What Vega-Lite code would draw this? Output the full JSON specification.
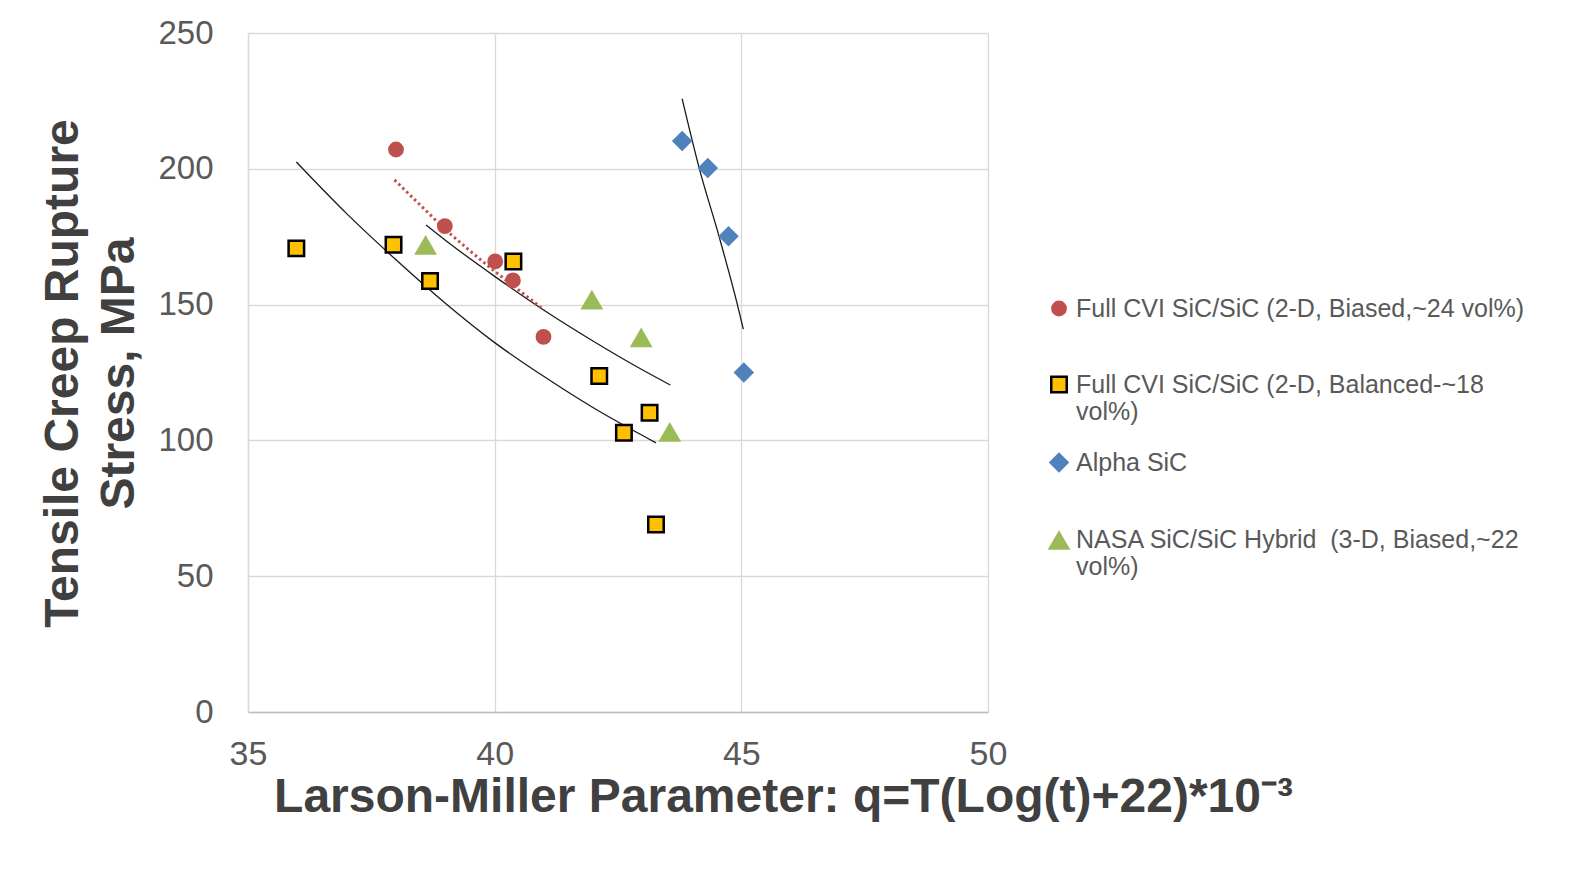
{
  "$schema": "https://vega.github.io/schema/vega-lite/v6.json",
  "width": 740,
  "height": 679,
  "autosize": "none",
  "padding": {"left": 248, "top": 33, "right": 593, "bottom": 161},
  "background": "white",
  "config": {"view": {"stroke": null}, "font": "Liberation Sans"},
  "datasets": {
    "points": [
      {"series": "Full CVI SiC/SiC (2-D, Biased,~24 vol%)", "q": 38.00, "stress": 207.1},
      {"series": "Full CVI SiC/SiC (2-D, Biased,~24 vol%)", "q": 38.99, "stress": 178.9},
      {"series": "Full CVI SiC/SiC (2-D, Biased,~24 vol%)", "q": 40.01, "stress": 165.9},
      {"series": "Full CVI SiC/SiC (2-D, Biased,~24 vol%)", "q": 40.37, "stress": 158.9},
      {"series": "Full CVI SiC/SiC (2-D, Biased,~24 vol%)", "q": 40.99, "stress": 138.1},
      {"series": "Full CVI SiC/SiC (2-D, Balanced-~18 vol%)", "q": 35.98, "stress": 170.7},
      {"series": "Full CVI SiC/SiC (2-D, Balanced-~18 vol%)", "q": 37.95, "stress": 172.0},
      {"series": "Full CVI SiC/SiC (2-D, Balanced-~18 vol%)", "q": 38.69, "stress": 158.7},
      {"series": "Full CVI SiC/SiC (2-D, Balanced-~18 vol%)", "q": 40.38, "stress": 165.9},
      {"series": "Full CVI SiC/SiC (2-D, Balanced-~18 vol%)", "q": 42.12, "stress": 123.7},
      {"series": "Full CVI SiC/SiC (2-D, Balanced-~18 vol%)", "q": 43.14, "stress": 110.2},
      {"series": "Full CVI SiC/SiC (2-D, Balanced-~18 vol%)", "q": 42.62, "stress": 102.8},
      {"series": "Full CVI SiC/SiC (2-D, Balanced-~18 vol%)", "q": 43.27, "stress": 69.0},
      {"series": "Alpha SiC", "q": 43.80, "stress": 210.2},
      {"series": "Alpha SiC", "q": 44.32, "stress": 200.3},
      {"series": "Alpha SiC", "q": 44.74, "stress": 175.2},
      {"series": "Alpha SiC", "q": 45.05, "stress": 125.0},
      {"series": "NASA SiC/SiC Hybrid  (3-D, Biased,~22 vol%)", "q": 38.60, "stress": 172.0},
      {"series": "NASA SiC/SiC Hybrid  (3-D, Biased,~22 vol%)", "q": 41.97, "stress": 151.8},
      {"series": "NASA SiC/SiC Hybrid  (3-D, Biased,~22 vol%)", "q": 42.97, "stress": 137.9},
      {"series": "NASA SiC/SiC Hybrid  (3-D, Biased,~22 vol%)", "q": 43.55, "stress": 103.1}
    ],
    "curves": [
      {"curve": "lower", "q": 35.98, "stress": 202.5},
      {"curve": "lower", "q": 37.0, "stress": 183.5},
      {"curve": "lower", "q": 38.0, "stress": 166.5},
      {"curve": "lower", "q": 39.0, "stress": 150.5},
      {"curve": "lower", "q": 40.0, "stress": 136.0},
      {"curve": "lower", "q": 41.0, "stress": 123.5},
      {"curve": "lower", "q": 42.0, "stress": 112.0},
      {"curve": "lower", "q": 43.27, "stress": 99.1},
      {"curve": "upper", "q": 38.61, "stress": 179.3},
      {"curve": "upper", "q": 39.0, "stress": 173.7},
      {"curve": "upper", "q": 40.0, "stress": 160.4},
      {"curve": "upper", "q": 41.0, "stress": 147.9},
      {"curve": "upper", "q": 42.0, "stress": 136.5},
      {"curve": "upper", "q": 43.0, "stress": 125.9},
      {"curve": "upper", "q": 43.56, "stress": 120.4},
      {"curve": "alpha", "q": 43.80, "stress": 225.8},
      {"curve": "alpha", "q": 44.15, "stress": 200.0},
      {"curve": "alpha", "q": 44.55, "stress": 175.0},
      {"curve": "alpha", "q": 44.92, "stress": 150.0},
      {"curve": "alpha", "q": 45.04, "stress": 141.0}
    ],
    "dotted": [
      {"q": 37.97, "stress": 195.9},
      {"q": 38.5, "stress": 186.5},
      {"q": 39.0, "stress": 177.7},
      {"q": 39.5, "stress": 169.8},
      {"q": 40.0, "stress": 162.3},
      {"q": 40.5, "stress": 155.2},
      {"q": 41.0, "stress": 148.0}
    ]
  },
  "encoding": {
    "x": {
      "field": "q",
      "type": "quantitative",
      "scale": {"domain": [35, 50], "nice": false, "zero": false},
      "axis": {
        "values": [35, 40, 45, 50],
        "title": "Larson-Miller Parameter: q=T(Log(t)+22)*10⁻³",
        "titleFontSize": 48,
        "titleFontWeight": "bold",
        "titleColor": "#404040",
        "titleX": 535,
        "titleY": 99,
        "titleAlign": "center",
        "titleBaseline": "alphabetic",
        "labelFontSize": 34,
        "labelColor": "#595959",
        "labelPadding": 25,
        "labelFlush": false,
        "ticks": false,
        "grid": true,
        "gridColor": "#D9D9D9",
        "gridWidth": 1.3,
        "domainColor": "#BFBFBF",
        "domainWidth": 1.3
      }
    },
    "y": {
      "field": "stress",
      "type": "quantitative",
      "scale": {"domain": [0, 250], "nice": false},
      "axis": {
        "values": [0, 50, 100, 150, 200, 250],
        "title": ["Tensile Creep Rupture", "Stress, MPa"],
        "titleFontSize": 48,
        "titleFontWeight": "bold",
        "titleColor": "#404040",
        "titleLineHeight": 56,
        "titleAngle": -90,
        "titleX": -185,
        "titleY": 340,
        "titleAlign": "center",
        "titleBaseline": "middle",
        "labelFontSize": 33,
        "labelColor": "#595959",
        "labelPadding": 35,
        "ticks": false,
        "grid": true,
        "gridColor": "#D9D9D9",
        "gridWidth": 1.3,
        "domainColor": "#D9D9D9",
        "domainWidth": 1.3
      }
    }
  },
  "layer": [
    {
      "data": {"name": "curves"},
      "mark": {"type": "line", "color": "#1a1a1a", "strokeWidth": 1.3, "interpolate": "monotone"},
      "encoding": {"detail": {"field": "curve"}}
    },
    {
      "data": {"name": "dotted"},
      "mark": {"type": "line", "color": "#C0504D", "strokeWidth": 3, "strokeDash": [2.5, 3], "interpolate": "monotone"},
      "encoding": {}
    },
    {
      "data": {"name": "points"},
      "mark": {"type": "point", "filled": true, "opacity": 1, "strokeWidth": 2.5},
      "encoding": {
        "color": {
          "field": "series",
          "type": "nominal",
          "scale": {
            "domain": ["Full CVI SiC/SiC (2-D, Biased,~24 vol%)", "Full CVI SiC/SiC (2-D, Balanced-~18 vol%)", "Alpha SiC", "NASA SiC/SiC Hybrid  (3-D, Biased,~22 vol%)"],
            "range": ["#C0504D", "#FFC000", "#4F81BD", "#9BBB59"]
          },
          "legend": {
            "title": null,
            "orient": "none",
            "legendX": 798,
            "legendY": 263,
            "padding": 0,
            "labelFontSize": 25,
            "labelColor": "#595959",
            "labelLimit": 700,
            "labelOffset": 4,
            "rowPadding": 22,
            "symbolStrokeWidth": 2.5,
            "labelExpr": "datum.label == 'Full CVI SiC/SiC (2-D, Balanced-~18 vol%)' ? ['\u00a0Full CVI SiC/SiC (2-D, Balanced-~18', 'vol%)'] : datum.label == 'NASA SiC/SiC Hybrid  (3-D, Biased,~22 vol%)' ? ['NASA SiC/SiC Hybrid \u00a0(3-D, Biased,~22', 'vol%)'] : [datum.label, '']"
          }
        },
        "shape": {
          "field": "series",
          "type": "nominal",
          "scale": {
            "domain": ["Full CVI SiC/SiC (2-D, Biased,~24 vol%)", "Full CVI SiC/SiC (2-D, Balanced-~18 vol%)", "Alpha SiC", "NASA SiC/SiC Hybrid  (3-D, Biased,~22 vol%)"],
            "range": ["circle", "square", "diamond", "triangle-up"]
          }
        },
        "size": {
          "field": "series",
          "type": "nominal",
          "scale": {
            "type": "ordinal",
            "domain": ["Full CVI SiC/SiC (2-D, Biased,~24 vol%)", "Full CVI SiC/SiC (2-D, Balanced-~18 vol%)", "Alpha SiC", "NASA SiC/SiC Hybrid  (3-D, Biased,~22 vol%)"],
            "range": [250, 240, 420, 520]
          }
        },
        "stroke": {
          "field": "series",
          "type": "nominal",
          "scale": {
            "domain": ["Full CVI SiC/SiC (2-D, Biased,~24 vol%)", "Full CVI SiC/SiC (2-D, Balanced-~18 vol%)", "Alpha SiC", "NASA SiC/SiC Hybrid  (3-D, Biased,~22 vol%)"],
            "range": ["transparent", "#000000", "transparent", "transparent"]
          }
        }
      }
    }
  ]
}
